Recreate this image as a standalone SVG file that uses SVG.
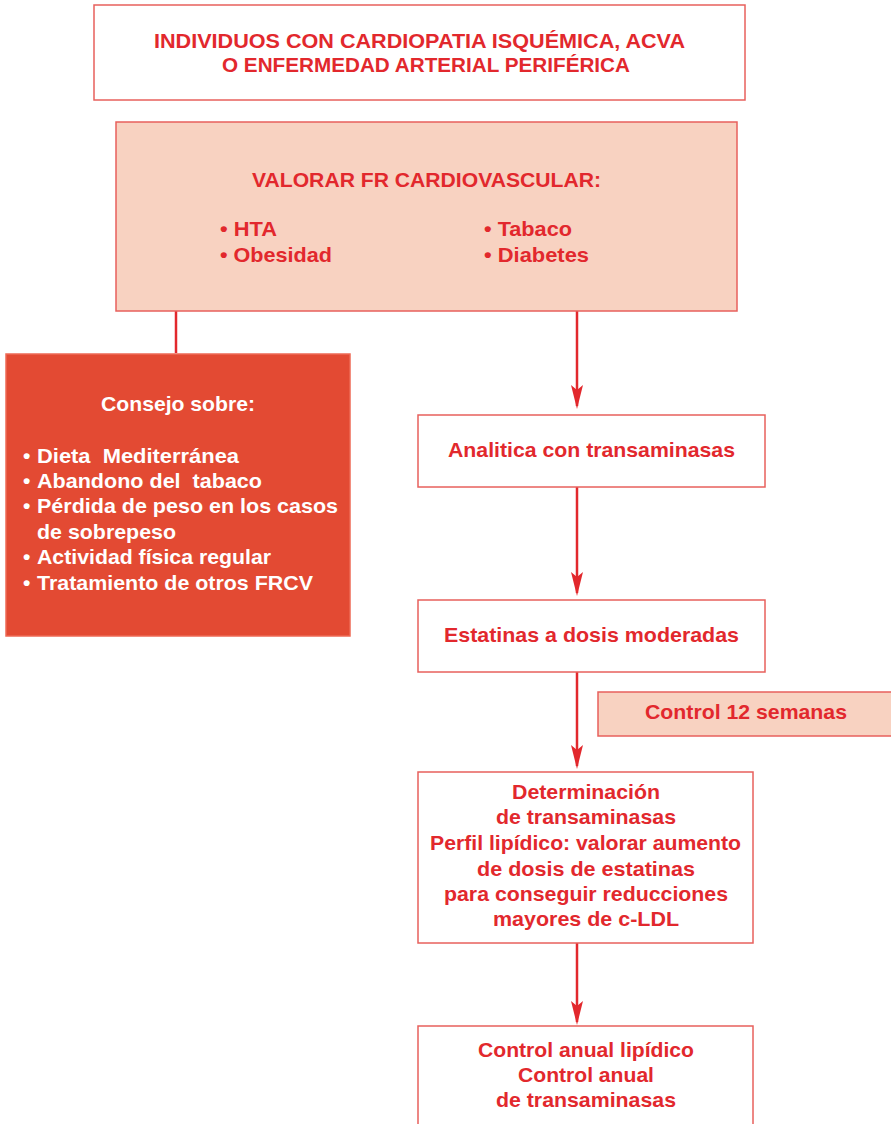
<svg xmlns="http://www.w3.org/2000/svg" width="891" height="1124" viewBox="0 0 891 1124">
<style>
.box{fill:#ffffff;stroke:#e8605c;stroke-width:1.5}
.peach{fill:#f8d2c1;stroke:#e8605c;stroke-width:1.5}
.red{fill:#e34a33;stroke:#ee6a55;stroke-width:1.5}
text{font-family:"Liberation Sans",Arial,sans-serif;font-weight:bold;font-size:21px;fill:#e2282d}
.c{text-anchor:middle}
.w{fill:#ffffff}
.ln{stroke:#e2282d;stroke-width:2.5;fill:none}
</style>
<defs>
<marker id="ah" viewBox="0 0 24 12" refX="21" refY="6" markerWidth="24" markerHeight="12" markerUnits="userSpaceOnUse" orient="auto">
<path d="M0,0 L24,6 L0,12 L5,6 Z" fill="#e2282d"/>
</marker>
</defs>
<rect width="891" height="1124" fill="#ffffff"/>
<g id="connectors">
<line class="ln" x1="176" y1="311" x2="176" y2="353"/>
<line class="ln" x1="577" y1="311" x2="577" y2="406" marker-end="url(#ah)"/>
<line class="ln" x1="577" y1="487" x2="577" y2="593" marker-end="url(#ah)"/>
<line class="ln" x1="577" y1="672" x2="577" y2="766" marker-end="url(#ah)"/>
<line class="ln" x1="577" y1="943" x2="577" y2="1022" marker-end="url(#ah)"/>
</g>
<g id="n1">
<rect class="box" x="94" y="5" width="651" height="95"/>
<text class="c" x="419.5" y="48" textLength="531" lengthAdjust="spacingAndGlyphs">INDIVIDUOS CON CARDIOPATIA ISQUÉMICA, ACVA</text>
<text class="c" x="426" y="72" textLength="408" lengthAdjust="spacingAndGlyphs">O ENFERMEDAD ARTERIAL PERIFÉRICA</text>
</g>
<g id="n2">
<rect class="peach" x="116" y="122" width="621" height="189"/>
<text class="c" x="426.5" y="187" textLength="349" lengthAdjust="spacingAndGlyphs">VALORAR FR CARDIOVASCULAR:</text>
<text x="220" y="236" textLength="57" lengthAdjust="spacingAndGlyphs">• HTA</text>
<text x="220" y="262" textLength="112" lengthAdjust="spacingAndGlyphs">• Obesidad</text>
<text x="484" y="236" textLength="88" lengthAdjust="spacingAndGlyphs">• Tabaco</text>
<text x="484" y="262" textLength="105" lengthAdjust="spacingAndGlyphs">• Diabetes</text>
</g>
<g id="n3">
<rect class="red" x="6" y="354" width="344" height="282"/>
<text class="c w" x="178" y="411" textLength="154" lengthAdjust="spacingAndGlyphs">Consejo sobre:</text>
<text class="w" x="23" y="463">•</text>
<text class="w" x="37" y="463" xml:space="preserve" textLength="202" lengthAdjust="spacingAndGlyphs">Dieta  Mediterránea</text>
<text class="w" x="23" y="488">•</text>
<text class="w" x="37" y="488" xml:space="preserve" textLength="225" lengthAdjust="spacingAndGlyphs">Abandono del  tabaco</text>
<text class="w" x="23" y="513">•</text>
<text class="w" x="37" y="513" textLength="301" lengthAdjust="spacingAndGlyphs">Pérdida de peso en los casos</text>
<text class="w" x="37" y="539" textLength="139" lengthAdjust="spacingAndGlyphs">de sobrepeso</text>
<text class="w" x="23" y="564">•</text>
<text class="w" x="37" y="564" textLength="234" lengthAdjust="spacingAndGlyphs">Actividad física regular</text>
<text class="w" x="23" y="590">•</text>
<text class="w" x="37" y="590" textLength="276" lengthAdjust="spacingAndGlyphs">Tratamiento de otros FRCV</text>
</g>
<g id="n4">
<rect class="box" x="418" y="415" width="347" height="72"/>
<text class="c" x="591.5" y="457" textLength="287" lengthAdjust="spacingAndGlyphs">Analitica con transaminasas</text>
</g>
<g id="n5">
<rect class="box" x="418" y="600" width="347" height="72"/>
<text class="c" x="591.5" y="642" textLength="295" lengthAdjust="spacingAndGlyphs">Estatinas a dosis moderadas</text>
</g>
<g id="n6">
<rect class="peach" x="598" y="692" width="300" height="44"/>
<text class="c" x="746" y="719" textLength="202" lengthAdjust="spacingAndGlyphs">Control 12 semanas</text>
</g>
<g id="n7">
<rect class="box" x="418" y="772" width="335" height="171"/>
<text class="c" x="586" y="799" textLength="148" lengthAdjust="spacingAndGlyphs">Determinación</text>
<text class="c" x="586" y="824" textLength="180" lengthAdjust="spacingAndGlyphs">de transaminasas</text>
<text class="c" x="585.5" y="850" textLength="311" lengthAdjust="spacingAndGlyphs">Perfil lipídico: valorar aumento</text>
<text class="c" x="586" y="876" textLength="218" lengthAdjust="spacingAndGlyphs">de dosis de estatinas</text>
<text class="c" x="586" y="901" textLength="284" lengthAdjust="spacingAndGlyphs">para conseguir reducciones</text>
<text class="c" x="586" y="926" textLength="186" lengthAdjust="spacingAndGlyphs">mayores de c-LDL</text>
</g>
<g id="n8">
<rect class="box" x="418" y="1026" width="335" height="110"/>
<text class="c" x="586" y="1057" textLength="216" lengthAdjust="spacingAndGlyphs">Control anual lipídico</text>
<text class="c" x="586" y="1082" textLength="136" lengthAdjust="spacingAndGlyphs">Control anual</text>
<text class="c" x="586" y="1107" textLength="180" lengthAdjust="spacingAndGlyphs">de transaminasas</text>
</g>
</svg>
